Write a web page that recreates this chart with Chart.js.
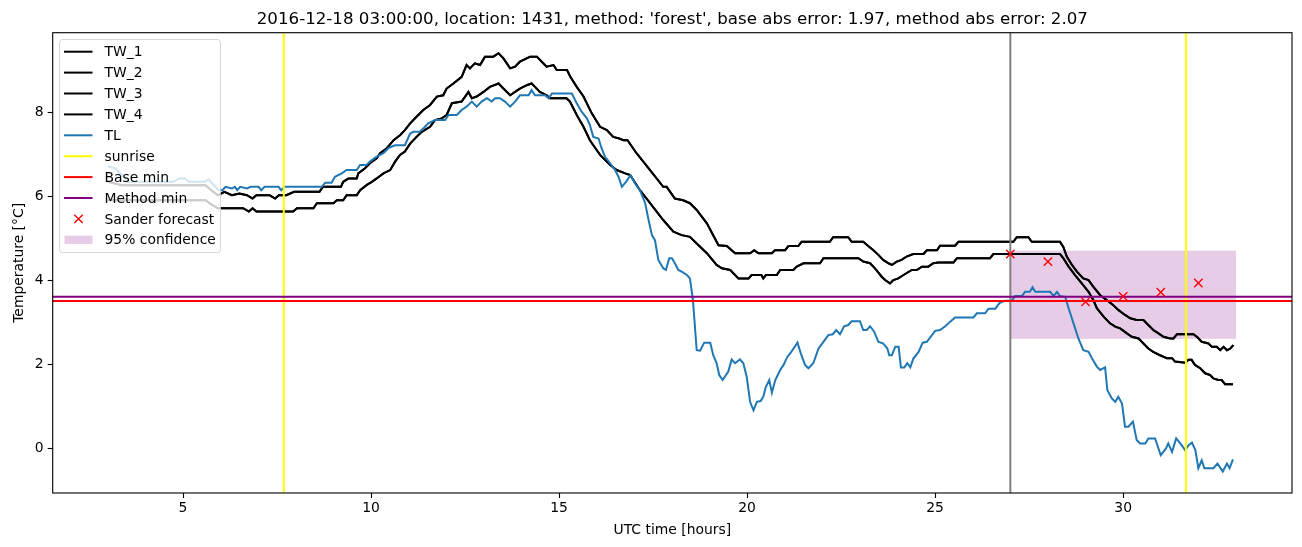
<!DOCTYPE html>
<html><head><meta charset="utf-8">
<script src="https://cdn.jsdelivr.net/npm/chart.js@4.4.1/dist/chart.umd.min.js"></script>
<style>html,body{margin:0;padding:0;background:#fff;}</style>
</head><body>
<canvas id="c" width="1302" height="547"></canvas>
<script>
const titleText = "2016-12-18 03:00:00, location: 1431, method: 'forest', base abs error: 1.97, method abs error: 2.07";
const xLabel = "UTC time [hours]";
const yLabel = "Temperature [°C]";
const xTicks = [5, 10, 15, 20, 25, 30];
const yTicks = [0, 2, 4, 6, 8];
const legendLabels = ['TW_1','TW_2','TW_3','TW_4','TL','sunrise','Base min','Method min','Sander forecast','95% confidence'];

// TL (air temperature)
const tlX = [3.0,3.2,3.42,3.55,4.5,4.75,4.9,5.05,5.15,5.59,5.68,5.78,5.95,6.05,6.13,6.3,6.38,6.44,6.52,6.7,6.8,7.01,7.08,7.17,7.54,7.61,7.7,8.69,8.78,8.95,9.04,9.22,9.35,9.62,9.71,9.88,9.97,10.15,10.33,10.46,10.64,10.9,11.04,11.13,11.3,11.39,11.52,11.7,11.97,12.06,12.28,12.41,12.54,12.68,12.81,12.94,13.08,13.21,13.3,13.43,13.56,13.7,13.83,13.96,14.19,14.27,14.36,14.63,14.72,14.81,15.34,15.47,15.6,15.74,15.82,15.91,16.05,16.13,16.22,16.36,16.49,16.58,16.67,16.78,16.9,17.02,17.15,17.29,17.38,17.47,17.55,17.64,17.77,17.84,17.93,18.0,18.08,18.17,18.26,18.4,18.48,18.56,18.66,18.75,18.86,19.02,19.1,19.19,19.26,19.35,19.5,19.59,19.68,19.81,19.9,19.99,20.08,20.17,20.26,20.36,20.43,20.5,20.59,20.66,20.75,20.88,20.97,21.07,21.16,21.34,21.43,21.54,21.63,21.76,21.9,22.03,22.16,22.28,22.37,22.47,22.58,22.69,22.78,23.0,23.09,23.18,23.27,23.38,23.49,23.62,23.73,23.78,23.85,23.94,24.03,24.09,24.18,24.26,24.34,24.42,24.56,24.67,24.78,25.0,25.13,25.27,25.4,25.53,26.02,26.11,26.33,26.42,26.6,26.71,26.86,27.04,27.13,27.31,27.39,27.52,27.59,27.66,28.06,28.15,28.24,28.32,28.46,28.55,28.68,28.81,28.94,29.08,29.17,29.3,29.39,29.52,29.58,29.7,29.79,29.87,29.97,30.05,30.14,30.26,30.36,30.45,30.59,30.67,30.85,31.0,31.14,31.2,31.3,31.41,31.52,31.65,31.74,31.83,31.92,32.0,32.09,32.16,32.4,32.51,32.65,32.76,32.83,32.92];
const tlY = [6.71,6.66,6.46,6.34,6.34,6.34,6.42,6.42,6.34,6.34,6.4,6.3,6.14,6.14,6.22,6.18,6.22,6.14,6.22,6.18,6.22,6.22,6.14,6.22,6.22,6.14,6.22,6.22,6.32,6.32,6.46,6.54,6.62,6.62,6.74,6.74,6.82,6.94,7.02,7.14,7.21,7.21,7.49,7.53,7.53,7.61,7.73,7.81,7.81,7.93,7.93,8.05,8.13,8.25,8.13,8.25,8.33,8.25,8.33,8.33,8.25,8.13,8.25,8.40,8.40,8.52,8.40,8.40,8.33,8.44,8.44,8.21,8.01,7.85,7.69,7.41,7.37,7.14,6.94,6.78,6.62,6.46,6.22,6.34,6.50,6.30,6.14,5.83,5.43,5.07,4.95,4.48,4.28,4.24,4.52,4.52,4.40,4.24,4.20,4.12,4.04,3.52,2.33,2.32,2.51,2.51,2.21,2.02,1.74,1.62,1.82,2.11,2.02,2.11,2.02,1.70,1.10,0.90,1.10,1.12,1.22,1.46,1.62,1.32,1.62,1.86,1.98,2.17,2.27,2.51,2.25,1.98,1.90,2.02,2.37,2.53,2.69,2.71,2.81,2.71,2.90,2.93,3.02,3.02,2.81,2.81,2.90,2.77,2.53,2.49,2.37,2.21,2.21,2.41,2.41,1.92,1.92,2.02,1.92,2.13,2.29,2.51,2.53,2.79,2.81,2.90,3.01,3.11,3.11,3.21,3.21,3.32,3.32,3.45,3.51,3.51,3.62,3.62,3.72,3.72,3.83,3.72,3.72,3.62,3.72,3.62,3.60,3.33,2.97,2.61,2.33,2.29,2.14,1.94,1.86,1.92,1.38,1.18,1.10,1.22,1.06,0.51,0.51,0.63,0.19,0.11,0.11,0.23,0.23,-0.17,-0.01,0.11,-0.09,0.23,0.11,-0.05,0.07,0.13,-0.05,-0.48,-0.29,-0.48,-0.48,-0.37,-0.56,-0.37,-0.48,-0.27];

// TW_1 / TW_2 (upper pair)
const twAX = [3.0,3.37,5.6,5.75,5.93,6.1,6.3,6.5,6.7,6.85,6.95,7.3,7.45,7.55,7.75,7.95,8.63,8.72,9.2,9.26,9.4,9.62,9.66,9.84,9.97,10.15,10.24,10.42,10.6,10.77,10.9,11.04,11.21,11.39,11.57,11.75,11.92,12.01,12.19,12.41,12.54,12.63,12.76,12.9,13.03,13.25,13.39,13.52,13.7,13.83,13.96,14.14,14.23,14.41,14.54,14.67,14.85,14.94,15.21,15.3,15.47,15.65,15.87,16.09,16.27,16.44,16.6,16.71,16.82,17.06,17.42,17.77,17.86,18.08,18.3,18.48,18.66,18.93,19.24,19.46,19.68,20.08,20.19,20.3,20.66,20.74,21.01,21.1,21.36,21.45,22.2,22.29,22.69,22.78,23.09,23.22,23.36,23.49,23.62,23.76,23.85,23.98,24.11,24.24,24.42,24.69,24.78,25.05,25.13,25.53,25.62,27.08,27.17,27.48,27.57,28.32,28.41,28.5,28.64,28.77,28.94,29.08,29.21,29.39,29.57,29.74,29.87,30.05,30.19,30.36,30.54,30.67,30.8,30.94,31.07,31.25,31.34,31.43,31.87,31.96,32.09,32.27,32.36,32.49,32.58,32.67,32.76,32.85,32.93];
const twAY = [6.34,6.26,6.26,6.14,6.02,6.10,6.02,6.06,6.02,5.94,6.02,6.02,5.94,6.02,6.02,6.10,6.10,6.22,6.22,6.34,6.42,6.42,6.54,6.66,6.78,6.90,7.02,7.14,7.33,7.45,7.57,7.73,7.89,8.05,8.17,8.37,8.40,8.56,8.68,8.84,9.12,9.04,9.16,9.12,9.32,9.32,9.40,9.28,9.04,9.08,9.20,9.28,9.32,9.32,9.20,9.08,9.12,9.0,9.0,8.84,8.60,8.37,7.97,7.65,7.57,7.41,7.37,7.33,7.33,7.02,6.62,6.22,6.22,5.94,5.90,5.83,5.67,5.35,4.83,4.81,4.64,4.64,4.71,4.64,4.64,4.71,4.71,4.81,4.81,4.91,4.91,5.02,5.02,4.91,4.91,4.81,4.71,4.60,4.48,4.40,4.36,4.44,4.48,4.56,4.62,4.62,4.71,4.71,4.82,4.82,4.91,4.91,5.02,5.02,4.91,4.91,4.79,4.56,4.36,4.20,4.04,4.0,3.84,3.64,3.52,3.40,3.29,3.17,3.09,3.05,3.05,2.93,2.81,2.73,2.65,2.61,2.61,2.71,2.71,2.65,2.53,2.49,2.41,2.41,2.33,2.41,2.33,2.37,2.45];

// TW_3 / TW_4 (lower pair)
const twBX = [3.0,5.6,5.75,5.93,6.6,6.75,6.85,6.95,7.7,7.93,8.03,8.47,8.56,9.0,9.09,9.26,9.35,9.62,9.71,9.88,10.02,10.15,10.33,10.51,10.64,10.77,10.9,11.04,11.21,11.35,11.57,11.7,11.88,12.01,12.15,12.41,12.59,12.68,12.81,12.99,13.16,13.39,13.52,13.7,13.83,13.96,14.14,14.27,14.36,14.49,14.67,14.76,15.2,15.29,15.47,15.65,15.82,16.09,16.36,16.53,16.76,16.89,17.15,17.42,17.77,18.04,18.26,18.48,18.66,18.93,19.19,19.33,19.55,19.77,20.04,20.12,20.38,20.43,20.5,20.79,20.88,21.23,21.32,21.5,21.94,22.03,22.96,23.09,23.27,23.4,23.58,23.67,23.8,23.89,24.02,24.16,24.38,24.51,24.65,24.82,24.95,25.09,25.49,25.58,26.46,26.55,28.32,28.41,28.55,28.72,28.9,29.08,29.21,29.3,29.48,29.65,29.79,29.92,30.1,30.23,30.41,30.54,30.67,30.8,30.98,31.16,31.3,31.38,31.65,31.74,31.82,31.91,32.05,32.18,32.31,32.4,32.53,32.62,32.71,32.92];
const twBY = [5.90,5.90,5.80,5.71,5.71,5.63,5.71,5.63,5.63,5.63,5.71,5.71,5.83,5.83,5.90,5.90,6.02,6.02,6.14,6.26,6.34,6.42,6.54,6.62,6.82,6.98,7.06,7.25,7.41,7.53,7.65,7.81,7.85,7.93,8.21,8.25,8.48,8.33,8.37,8.48,8.60,8.68,8.56,8.40,8.48,8.56,8.64,8.68,8.60,8.48,8.40,8.33,8.33,8.25,7.93,7.65,7.33,6.98,6.74,6.62,6.54,6.50,6.14,5.83,5.43,5.15,5.07,5.03,4.87,4.64,4.36,4.28,4.24,4.04,4.04,4.12,4.12,4.04,4.12,4.12,4.24,4.24,4.32,4.40,4.40,4.52,4.52,4.44,4.40,4.28,4.08,4.0,3.92,4.0,4.04,4.12,4.24,4.24,4.32,4.32,4.40,4.42,4.42,4.52,4.52,4.62,4.62,4.52,4.32,4.12,3.92,3.72,3.52,3.33,3.13,2.97,2.89,2.85,2.73,2.65,2.61,2.49,2.37,2.29,2.21,2.14,2.14,2.06,2.03,2.10,2.10,1.98,1.90,1.78,1.74,1.66,1.62,1.62,1.52,1.52];

const sanderX = [27, 28, 29, 30, 31, 32];
const sanderY = [4.62, 4.44, 3.48, 3.61, 3.71, 3.93];
const sunriseHours = [7.68, 31.67];
const forecastHour = 27.0;
const baseMin = 3.50;
const methodMin = 3.60;
const confX = [27, 33];
const confY = [2.6, 4.7];

const FONT = 'DejaVu Sans';
const pts = (xs, ys) => xs.map((x, i) => ({x: x, y: ys[i]}));

function lineDs(label, xs, ys, color, order) {
  return {label, data: pts(xs, ys), showLine: true, borderColor: color, backgroundColor: color,
    borderWidth: 2, pointRadius: 0, tension: 0, order: order, fill: false};
}

const datasets = [
  lineDs('TW_1', twAX, twAY, '#000000', 10),
  lineDs('TW_2', twAX, twAY, '#000000', 9),
  lineDs('TW_3', twBX, twBY, '#000000', 8),
  lineDs('TW_4', twBX, twBY, '#000000', 7),
  lineDs('TL', tlX, tlY, '#1f77b4', 6),
  {label: 'Sander forecast', data: pts(sanderX, sanderY), showLine: false, pointStyle: 'crossRot',
   pointRadius: 5.9, borderColor: '#ff0000', backgroundColor: '#ff0000', pointBorderWidth: 1.4, borderWidth: 1.4, order: 1}
];

const deco = {
  id: 'deco',
  beforeDatasetsDraw(chart) {
    const {ctx, chartArea: a, scales: {x, y}} = chart;
    ctx.save();
    ctx.beginPath(); ctx.rect(a.left, a.top, a.right - a.left, a.bottom - a.top); ctx.clip();
    ctx.fillStyle = 'rgba(128,0,128,0.2)';
    const x0 = x.getPixelForValue(confX[0]), x1 = x.getPixelForValue(confX[1]);
    const y0 = y.getPixelForValue(confY[1]), y1 = y.getPixelForValue(confY[0]);
    ctx.fillRect(x0, y0, x1 - x0, y1 - y0);
    ctx.restore();
  },
  afterDatasetDraw(chart, args) {
    if (chart.data.datasets[args.index].label !== 'TL') return;
    const {ctx, chartArea: a, scales: {x, y}} = chart;
    ctx.save();
    ctx.beginPath(); ctx.rect(a.left, a.top, a.right - a.left, a.bottom - a.top); ctx.clip();
    ctx.lineWidth = 2;
    ctx.strokeStyle = '#808080';
    let px = x.getPixelForValue(forecastHour);
    ctx.beginPath(); ctx.moveTo(px, a.top); ctx.lineTo(px, a.bottom); ctx.stroke();
    ctx.strokeStyle = '#ffff00';
    sunriseHours.forEach(h => { const p = x.getPixelForValue(h); ctx.beginPath(); ctx.moveTo(p, a.top); ctx.lineTo(p, a.bottom); ctx.stroke(); });
    ctx.strokeStyle = '#ff0000';
    let py = y.getPixelForValue(baseMin);
    ctx.beginPath(); ctx.moveTo(a.left, py); ctx.lineTo(a.right, py); ctx.stroke();
    ctx.strokeStyle = '#800080';
    py = y.getPixelForValue(methodMin);
    ctx.beginPath(); ctx.moveTo(a.left, py); ctx.lineTo(a.right, py); ctx.stroke();
    ctx.restore();
  },
  afterDraw(chart) {
    const {ctx, chartArea: a} = chart;
    ctx.save();
    // frame
    ctx.strokeStyle = '#000'; ctx.lineWidth = 1.1;
    ctx.strokeRect(a.left, a.top, a.right - a.left, a.bottom - a.top);
    // title
    ctx.fillStyle = '#000';
    ctx.font = '16.67px "' + FONT + '"';
    ctx.textAlign = 'center'; ctx.textBaseline = 'alphabetic';
    ctx.fillText(titleText, (a.left + a.right) / 2, 24);
    // axis labels
    ctx.font = '13.9px "' + FONT + '"';
    ctx.fillText(xLabel, (a.left + a.right) / 2, 534);
    ctx.save();
    ctx.translate(23, (a.top + a.bottom) / 2);
    ctx.rotate(-Math.PI / 2);
    ctx.fillText(yLabel, 0, 0);
    ctx.restore();
    // legend
    const bx = 59.5, by = 39.5, bw = 161, bh = 213, r = 3;
    ctx.beginPath();
    ctx.moveTo(bx + r, by); ctx.lineTo(bx + bw - r, by); ctx.arcTo(bx + bw, by, bx + bw, by + r, r);
    ctx.lineTo(bx + bw, by + bh - r); ctx.arcTo(bx + bw, by + bh, bx + bw - r, by + bh, r);
    ctx.lineTo(bx + r, by + bh); ctx.arcTo(bx, by + bh, bx, by + bh - r, r);
    ctx.lineTo(bx, by + r); ctx.arcTo(bx, by, bx + r, by, r); ctx.closePath();
    ctx.fillStyle = 'rgba(255,255,255,0.8)'; ctx.fill();
    ctx.strokeStyle = 'rgba(204,204,204,0.8)'; ctx.lineWidth = 1; ctx.stroke();
    const colors = ['#000000','#000000','#000000','#000000','#1f77b4','#ffff00','#ff0000','#800080'];
    ctx.textAlign = 'left'; ctx.textBaseline = 'middle';
    ctx.font = '13.9px "' + FONT + '"';
    legendLabels.forEach((lab, i) => {
      const cy = 51.7 + i * 20.9;
      if (i < 8) {
        ctx.strokeStyle = colors[i]; ctx.lineWidth = 2;
        ctx.beginPath(); ctx.moveTo(64, cy); ctx.lineTo(92.5, cy); ctx.stroke();
      } else if (i === 8) {
        ctx.strokeStyle = '#ff0000'; ctx.lineWidth = 1.4;
        const s = 4.2, cx = 78.5;
        ctx.beginPath(); ctx.moveTo(cx - s, cy - s); ctx.lineTo(cx + s, cy + s);
        ctx.moveTo(cx - s, cy + s); ctx.lineTo(cx + s, cy - s); ctx.stroke();
      } else {
        ctx.fillStyle = 'rgba(128,0,128,0.2)';
        ctx.fillRect(64.5, cy - 4.2, 28, 8.3);
      }
      ctx.fillStyle = '#000';
      ctx.fillText(lab, 104.5, cy + 1);
    });
    ctx.restore();
  }
};

new Chart(document.getElementById('c'), {
  type: 'scatter',
  data: {datasets},
  options: {
    responsive: false, animation: false, devicePixelRatio: 1,
    layout: {padding: {top: 32.7, right: 10, left: 0, bottom: 0}},
    plugins: {legend: {display: false}, title: {display: false}, tooltip: {enabled: false}},
    scales: {
      x: {
        type: 'linear', position: 'bottom', min: 1.535, max: 34.49,
        grid: {display: true, drawOnChartArea: false, drawTicks: true, tickLength: 5, color: '#000', tickWidth: 1.1},
        border: {display: false},
        ticks: {color: '#000', font: {family: FONT, size: 13.9}, padding: 2, maxRotation: 0, autoSkip: false},
        afterBuildTicks: s => { s.ticks = xTicks.map(v => ({value: v})); },
        afterFit: s => { s.height = 54; }
      },
      y: {
        type: 'linear', position: 'left', min: -1.07, max: 9.89,
        grid: {display: true, drawOnChartArea: false, drawTicks: true, tickLength: 5, color: '#000', tickWidth: 1.1},
        border: {display: false},
        ticks: {color: '#000', font: {family: FONT, size: 13.9}, padding: 4, autoSkip: false},
        afterBuildTicks: s => { s.ticks = yTicks.map(v => ({value: v})); },
        afterFit: s => { s.width = 52.7; }
      }
    }
  },
  plugins: [deco]
});
</script>
</body></html>
